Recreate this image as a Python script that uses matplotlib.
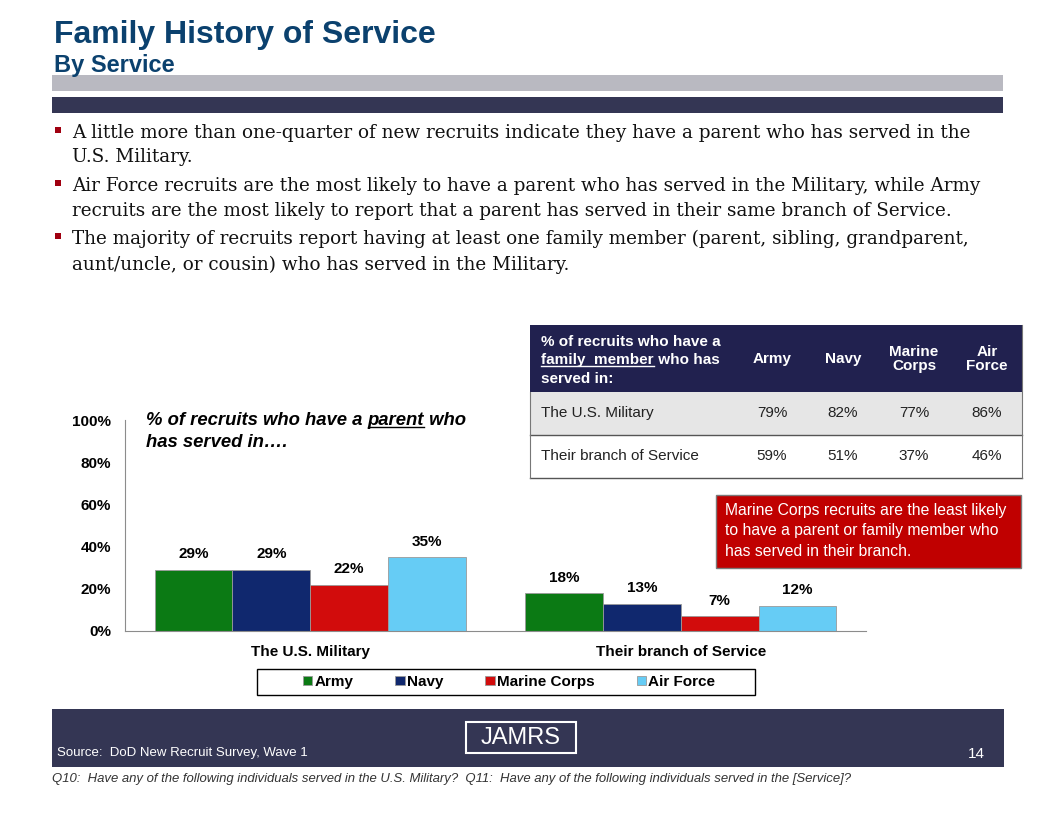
import matplotlib.pyplot as plt
from matplotlib import font_manager
from matplotlib.patches import Rectangle
import numpy as np

# ---- data ----
services = ["Army", "Navy", "Marine Corps", "Air Force"]
service_colors = ["#0B7A14", "#10286E", "#D20C0C", "#66CCF5"]
groups = ["The U.S. Military", "Their branch of Service"]
parent_army = [29, 18]
parent_navy = [29, 13]
parent_marine = [22, 7]
parent_airforce = [35, 12]
y_ticks = [0, 20, 40, 60, 80, 100]

table_rows = ["The U.S. Military", "Their branch of Service"]
table_cols = ["Army", "Navy", "Marine\nCorps", "Air\nForce"]
family_army = [79, 59]
family_navy = [82, 51]
family_marine = [77, 37]
family_airforce = [86, 46]

bullets = [
    ["A little more than one-quarter of new recruits indicate they have a parent who has served in the",
     "U.S. Military."],
    ["Air Force recruits are the most likely to have a parent who has served in the Military, while Army",
     "recruits are the most likely to report that a parent has served in their same branch of Service."],
    ["The majority of recruits report having at least one family member (parent, sibling, grandparent,",
     "aunt/uncle, or cousin) who has served in the Military."],
]
callout = ["Marine Corps recruits are the least likely",
           "to have a parent or family member who",
           "has served in their branch."]

installed = {f.name for f in font_manager.fontManager.ttflist}
SANS = "Liberation Sans" if "Liberation Sans" in installed else "DejaVu Sans"
NAVY = "#343654"
TITLE_BLUE = "#0B416E"

W, H = 1056, 816
fig = plt.figure(figsize=(W / 100, H / 100), dpi=100)

# overlay in pixel coordinates for the slide decorations
bg = fig.add_axes([0, 0, 1, 1])
bg.set_xlim(0, W)
bg.set_ylim(H, 0)
bg.axis("off")

# title block
bg.text(54, 43, "Family History of Service", fontsize=23, fontweight="bold",
        family=SANS, color=TITLE_BLUE, va="baseline")
bg.text(54, 72, "By Service", fontsize=17, fontweight="bold", family=SANS,
        color=TITLE_BLUE, va="baseline")
bg.add_patch(Rectangle((52, 75), 951, 16, color="#B9B9C1", lw=0))
bg.add_patch(Rectangle((52, 97), 951, 16, color=NAVY, lw=0))

# bullets
baselines = [[138, 162], [191, 216], [244, 270]]
for lines, ys in zip(bullets, baselines):
    bg.add_patch(Rectangle((55, ys[0] - 11), 6, 6, color="#A00010", lw=0))
    for ln, yb in zip(lines, ys):
        bg.text(72, yb, ln, fontsize=13.2, family="DejaVu Serif", color="#111111",
                va="baseline")

fig.canvas.draw()
renderer = fig.canvas.get_renderer()


def underlined(x, yb, parts, **kw):
    # parts: list of (text, underline?)
    for txt, ul in parts:
        t = bg.text(x, yb, txt, va="baseline", **kw)
        w = t.get_window_extent(renderer).width
        if ul:
            bg.plot([x, x + w], [yb + 2, yb + 2], color=kw.get("color", "black"), lw=1)
        x += w
    return x


# ---- bar chart ----
ax = fig.add_axes([125 / W, 1 - 631 / H, 741 / W, 211 / H])
x = np.arange(len(groups))
bw = 0.21
series = [parent_army, parent_navy, parent_marine, parent_airforce]
handles = []
for i, (name, vals, col) in enumerate(zip(services, series, service_colors)):
    pos = x + (i - 1.5) * bw
    bars = ax.bar(pos, vals, bw, color=col, edgecolor="#9a9a9a", linewidth=0.6, label=name)
    handles.append(bars)
    for b, v in zip(bars, vals):
        ax.text(b.get_x() + b.get_width() / 2, v + 4, f"{v}%", ha="center", va="bottom",
                fontsize=11, fontweight="bold", family=SANS)
ax.set_xlim(-0.5, 1.5)
ax.set_ylim(0, 100)
ax.set_yticks(y_ticks)
ax.set_yticklabels([f"{t}%" for t in y_ticks], fontsize=11, fontweight="bold", family=SANS)
ax.set_xticks(x)
ax.set_xticklabels(groups, fontsize=11, fontweight="bold", family=SANS)
ax.tick_params(length=0)
ax.tick_params(axis="y", pad=10)
ax.tick_params(axis="x", pad=10)
for s in ["top", "right"]:
    ax.spines[s].set_visible(False)
for s in ["left", "bottom"]:
    ax.spines[s].set_color("#8c8c8c")
ax.patch.set_alpha(0)

underlined(146, 425, [("% of recruits who have a ", False), ("parent", True), (" who", False)],
           fontsize=13.3, fontweight="bold", style="italic", family=SANS, color="black")
bg.text(146, 447, "has served in\u2026.", fontsize=13.3, fontweight="bold", style="italic",
        family=SANS, va="baseline")

# legend box + entries
bg.add_patch(Rectangle((257, 669), 498, 26, facecolor="none", edgecolor="black", lw=1))
leg = fig.legend(handles, services, loc="center", ncol=4,
                 bbox_to_anchor=(509 / W, 1 - 682 / H),
                 frameon=False, handlelength=0.6, handleheight=0.6, handletextpad=0.15,
                 columnspacing=2.75, borderaxespad=0, borderpad=0,
                 prop={"family": SANS, "weight": "bold", "size": 11})

# ---- family member table ----
tl, tr = 530, 1022
col_x = [772, 843, 914, 987]
bg.add_patch(Rectangle((tl, 325), tr - tl, 67, color="#21214F", lw=0))
bg.add_patch(Rectangle((tl, 392), tr - tl, 43, color="#E6E6E6", lw=0))
hdr = dict(fontsize=11, fontweight="bold", family=SANS, color="white")
bg.text(541, 346, "% of recruits who have a", va="baseline", **hdr)
underlined(541, 364, [("family  member", True), (" who has", False)], **hdr)
bg.text(541, 383, "served in:", va="baseline", **hdr)
for cx, c in zip(col_x, table_cols):
    bg.text(cx, 359, c, ha="center", va="center", linespacing=1.05, **hdr)
fam = [family_army, family_navy, family_marine, family_airforce]
row_y = [413, 456]
for r, (lab, ry) in enumerate(zip(table_rows, row_y)):
    bg.text(541, ry, lab, va="center", fontsize=11, family=SANS, color="#222222")
    for cx, vals in zip(col_x, fam):
        bg.text(cx, ry, f"{vals[r]}%", ha="center", va="center", fontsize=11,
                family=SANS, color="#222222")
for yy in [435, 478]:
    bg.plot([tl, tr], [yy, yy], color="#555555", lw=1)
bg.plot([tl, tl], [392, 478], color="#777777", lw=0.8)
bg.plot([tr, tr], [325, 478], color="#777777", lw=0.8)

# red call-out
bg.add_patch(Rectangle((716, 495), 305, 73, facecolor="#C00000", edgecolor="#7a7a7a", lw=1))
for ln, yc in zip(callout, [511, 531, 551]):
    bg.text(725, yc, ln, va="center", fontsize=11.3, family=SANS, color="white")

# footer
bg.add_patch(Rectangle((52, 709), 952, 58, color=NAVY, lw=0))
bg.add_patch(Rectangle((466, 722), 110, 31, facecolor=NAVY, edgecolor="white", lw=1.5))
bg.text(521, 738, "JAMRS", ha="center", va="center", fontsize=17, color="white", family=SANS)
bg.text(57, 756, "Source:  DoD New Recruit Survey, Wave 1", fontsize=9.5, family=SANS,
        color="white", va="baseline")
bg.text(985, 758, "14", fontsize=11, family=SANS, color="white", va="baseline", ha="right")
bg.text(52, 782, "Q10:  Have any of the following individuals served in the U.S. Military?  "
        "Q11:  Have any of the following individuals served in the [Service]?",
        fontsize=9.45, style="italic", family=SANS, color="#333333", va="baseline")

fig.savefig("out.png", dpi=100)
